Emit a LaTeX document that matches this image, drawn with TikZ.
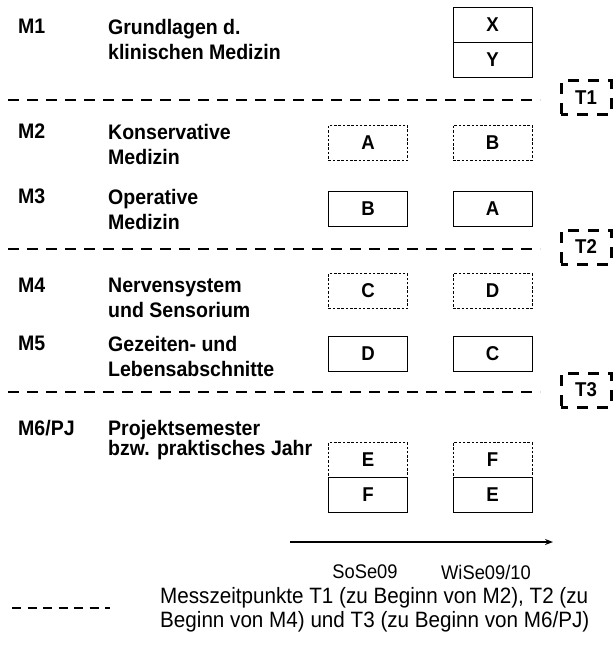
\documentclass[tikz,border=0pt]{standalone}
\usepackage{fontspec}
\setmainfont[FakeStretch=0.93]{Liberation Sans}
\usetikzlibrary{arrows.meta}
\begin{document}
\begin{tikzpicture}[x=1pt,y=-1pt,
  every node/.style={inner sep=0pt},
  lab/.style={anchor=north west,align=left,font=\bfseries\fontsize{21}{25}\selectfont},
  mod/.style={draw,line width=0.8pt,minimum width=79pt,minimum height=35pt,font=\bfseries\fontsize{20}{20}\selectfont},
  dbox/.style={mod,dash pattern=on 2.5pt off 1.8pt},
  sep/.style={line width=2.6pt,dash pattern=on 11pt off 8pt},
  tbox/.style={draw,line width=3pt,dash pattern=on 11pt off 9pt,dash phase=4pt,minimum width=50pt,minimum height=34pt,font=\bfseries\fontsize{20}{20}\selectfont},
  reg/.style={font=\fontsize{19.7}{24}\selectfont},
  legtext/.style={font=\fontsize{22.2}{24}\selectfont}]
\useasboundingbox (0,0) rectangle (614,663);
% row labels
\node[lab] (m1) at (18,19) {M1};
\node[lab] (t1) at (108,19) {Grundlagen d.\\klinischen Medizin};
\node[lab] (m2) at (18,124) {M2};
\node[lab] (t2) at (108,124) {Konservative\\Medizin};
\node[lab] (m3) at (18,189) {M3};
\node[lab] (t3) at (108,189) {Operative\\Medizin};
\node[lab] (m4) at (18,278) {M4};
\node[lab] (t4) at (108,278) {Nervensystem\\und Sensorium};
\node[lab] (m5) at (18,336) {M5};
\node[lab] (t5) at (108,336) {Gezeiten- und\\Lebensabschnitte};
\node[lab] (m6) at (18,420) {M6/PJ};
\node[lab,font=\bfseries\fontsize{21}{16.5}\selectfont] (t6) at (108,420) {Projektsemester\\bzw. praktisches Jahr};
% boxes
\node[mod] (x) at (492.5,24.5) {X};
\node[mod] (y) at (492.5,59.5) {Y};
\node[dbox] (a1) at (368,143) {A};
\node[dbox] (b1) at (492.5,143) {B};
\node[mod] (b2) at (368,209) {B};
\node[mod] (a2) at (492.5,209) {A};
\node[dbox] (c1) at (368,291) {C};
\node[dbox] (d1) at (492.5,291) {D};
\node[mod] (d2) at (368,354) {D};
\node[mod] (c2) at (492.5,354) {C};
\node[dbox] (e1) at (368,460) {E};
\node[dbox] (f1) at (492.5,460) {F};
\node[mod] (f2) at (368,494.5) {F};
\node[mod] (e2) at (492.5,494.5) {E};
% separators
\coordinate (s1a) at (8,100); \coordinate (s1b) at (540,100);
\coordinate (s2a) at (8,249); \coordinate (s2b) at (540,249);
\coordinate (s3a) at (8,392); \coordinate (s3b) at (540,392);
\draw[sep] (s1a) -- (s1b);
\draw[sep] (s2a) -- (s2b);
\draw[sep] (s3a) -- (s3b);
\node[tbox] (T1) at (586,98) {T1};
\node[tbox] (T2) at (586,247) {T2};
\node[tbox] (T3) at (586,390) {T3};
% time axis
\coordinate (ax0) at (290,542); \coordinate (ax1) at (553,542);
\draw[line width=1.8pt,-{Stealth[length=8pt,width=6pt]}] (ax0) -- (ax1);
\node[reg] (so) at (365,572) {SoSe09};
\node[reg] (wi) at (486,572) {WiSe09/10};
% legend
\coordinate (l0) at (12,608); \coordinate (l1) at (110,608);
\draw[line width=2pt,dash pattern=on 9pt off 6.5pt] (l0) -- (l1);
\node[legtext,anchor=west,align=left] (leg) at (160,610) {Messzeitpunkte T1 (zu Beginn von M2), T2 (zu\\Beginn von M4) und T3 (zu Beginn von M6/PJ)};
\end{tikzpicture}
\end{document}
